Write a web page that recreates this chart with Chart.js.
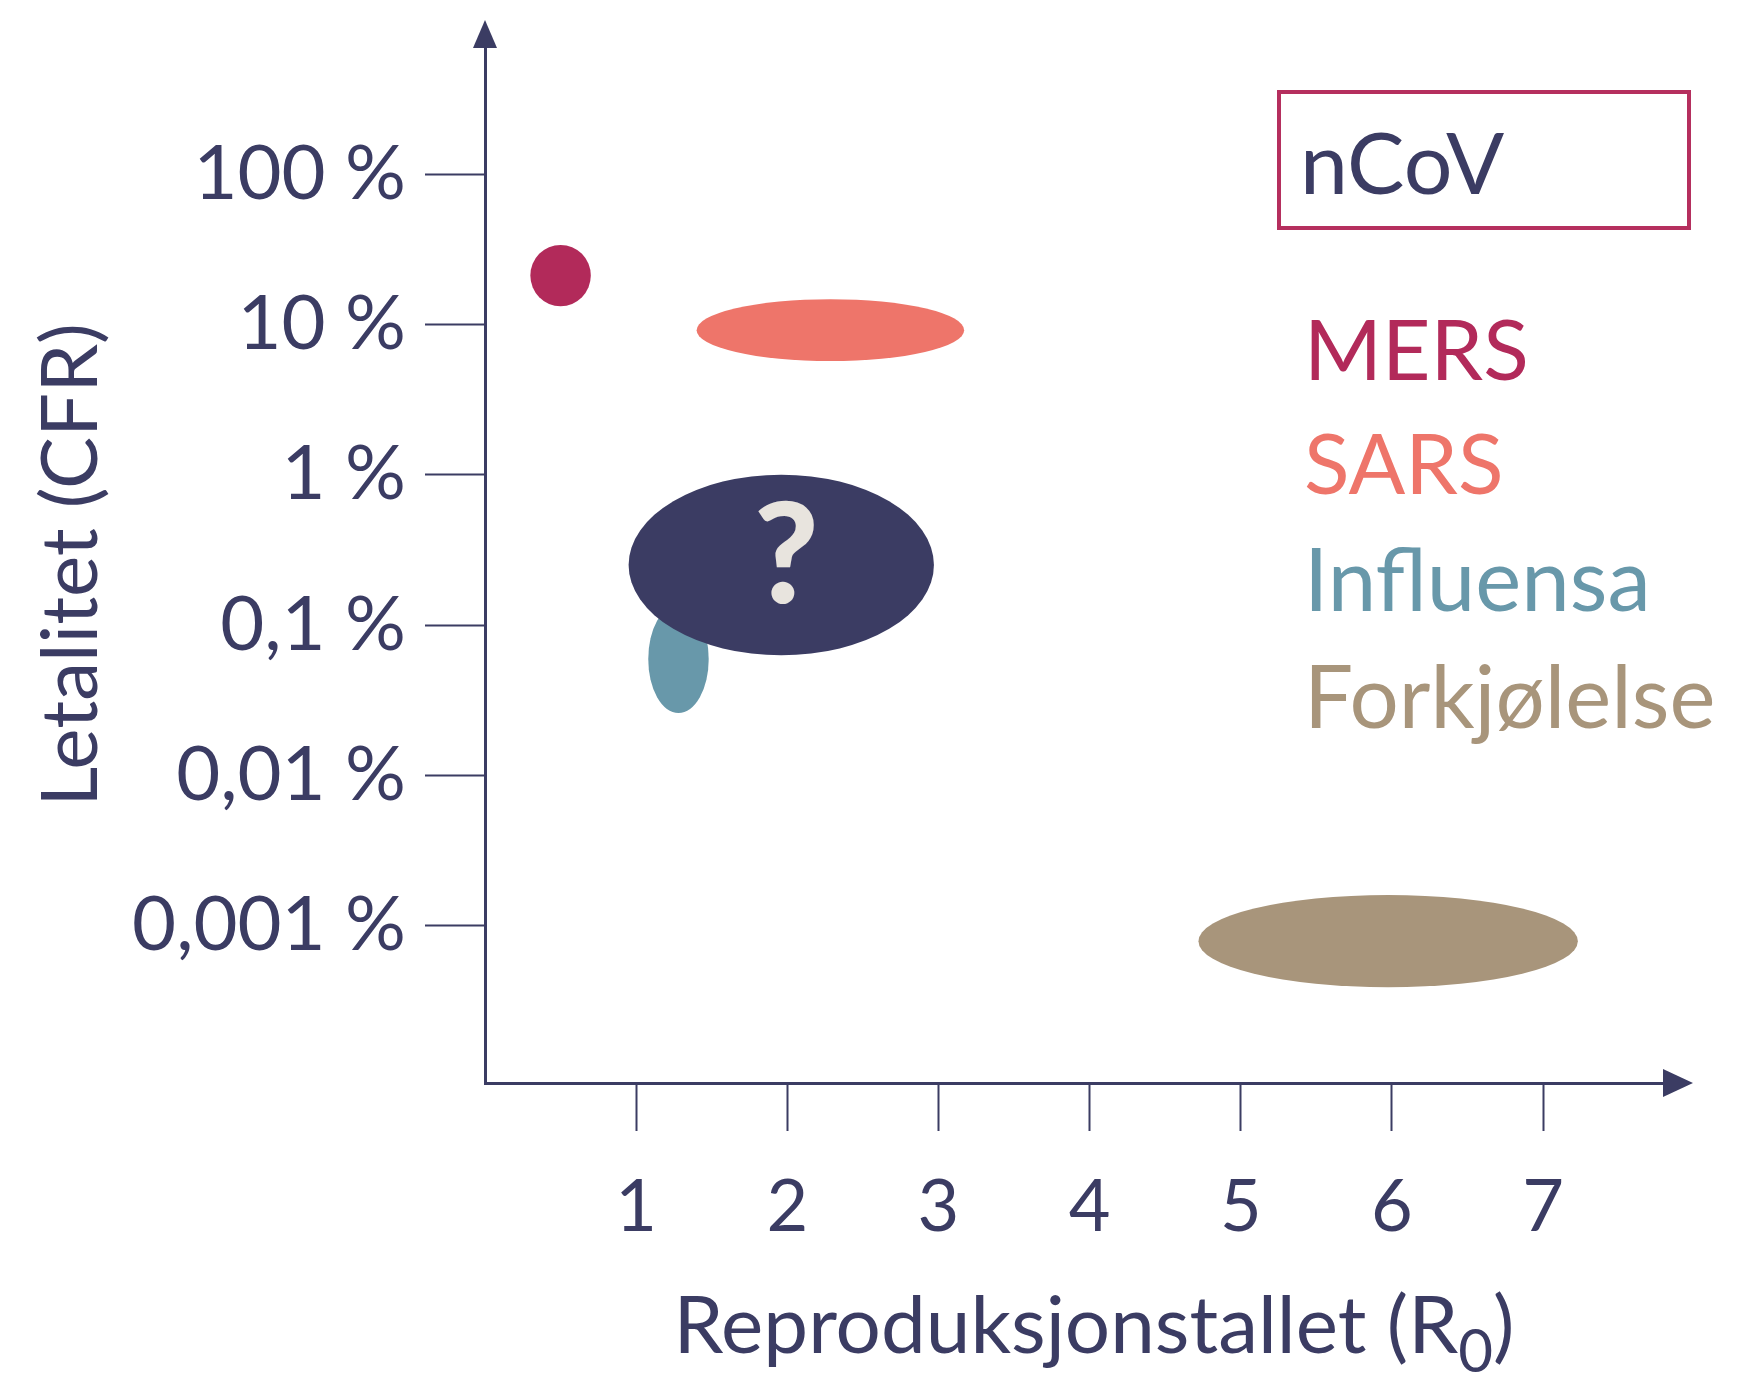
<!DOCTYPE html>
<html><head><meta charset="utf-8">
<script src="https://cdn.jsdelivr.net/npm/chart.js@4.4.1/dist/chart.umd.min.js"></script>
<style>html,body{margin:0;padding:0;background:#fff;} #wrap{width:1742px;height:1383px;}</style>
</head><body><div id="wrap"><canvas id="c" width="1742" height="1383"></canvas></div>
<script>
// ---- data ----
const diseases = ['MERS', 'SARS', 'Influensa', 'Forkjølelse', 'nCoV'];
const r0Low  = [0.30, 1.40, 1.08, 4.72, 0.95];
const r0High = [0.70, 3.17, 1.48, 7.23, 2.97];
const cfrLow  = [13.2, 5.7, 0.026, 0.00039, 0.063];   // %
const cfrHigh = [33.8, 14.7, 0.136, 0.0016, 1.0];     // %
const shapeColors = ['#b22a5a', '#ee756a', '#6898aa', '#a8957b', '#3b3c63'];
const xTickValues = [1, 2, 3, 4, 5, 6, 7];
const yTickValues = [100, 10, 1, 0.1, 0.01, 0.001];
const yTickLabels = ['100 %', '10 %', '1 %', '0,1 %', '0,01 %', '0,001 %'];
const legendNames = ['nCoV', 'MERS', 'SARS', 'Influensa', 'Forkjølelse'];
const legendColors = ['#3b3c63', '#b22a5a', '#ee756a', '#6898aa', '#a8957b'];
const xTitleMain = 'Reproduksjonstallet (R';
const xTitleSub = '0';
const xTitleEnd = ')';
const yTitleText = 'Letalitet (CFR)';
const unknownMark = '?';

const NAVY = '#3b3c63';
const FONT = 'Lato, "Open Sans", sans-serif';

const shapesPlugin = {
  id: 'shapes',
  beforeDatasetsDraw(chart) {
    const {ctx, scales: {x, y}} = chart;
    ctx.save();
    diseases.forEach((d, i) => {
      const x0 = x.getPixelForValue(r0Low[i]), x1 = x.getPixelForValue(r0High[i]);
      const y0 = y.getPixelForValue(cfrHigh[i]), y1 = y.getPixelForValue(cfrLow[i]);
      ctx.beginPath();
      ctx.ellipse((x0 + x1) / 2, (y0 + y1) / 2, Math.abs(x1 - x0) / 2, Math.abs(y1 - y0) / 2, 0, 0, Math.PI * 2);
      ctx.fillStyle = shapeColors[i];
      ctx.fill();
      if (d === 'nCoV') {
        ctx.fillStyle = '#e8e4de';
        ctx.font = '900 140px ' + FONT;
        ctx.textAlign = 'center';
        ctx.textBaseline = 'alphabetic';
        ctx.fillText(unknownMark, (x0 + x1) / 2 + 5, (y0 + y1) / 2 + 38);
      }
    });
    ctx.restore();
  },
  afterDraw(chart) {
    const {ctx, chartArea: ca} = chart;
    ctx.save();
    ctx.fillStyle = NAVY;
    // y arrow
    ctx.beginPath();
    ctx.moveTo(ca.left - 12, ca.top + 1);
    ctx.lineTo(ca.left + 12, ca.top + 1);
    ctx.lineTo(ca.left, ca.top - 27);
    ctx.closePath(); ctx.fill();
    // x arrow
    ctx.beginPath();
    ctx.moveTo(ca.right - 1, ca.bottom - 14);
    ctx.lineTo(ca.right - 1, ca.bottom + 14);
    ctx.lineTo(ca.right + 29, ca.bottom);
    ctx.closePath(); ctx.fill();

    // x title with subscript
    ctx.textBaseline = 'alphabetic';
    ctx.textAlign = 'left';
    const fMain = '80px ' + FONT, fSub = '60px ' + FONT;
    ctx.font = fMain;
    const w1 = ctx.measureText(xTitleMain).width;
    const w3 = ctx.measureText(xTitleEnd).width;
    ctx.font = fSub;
    const w2 = ctx.measureText(xTitleSub).width;
    const total = w1 + w2 + w3;
    let sx = 1094 - total / 2;
    const base = 1353;
    ctx.font = fMain; ctx.fillText(xTitleMain, sx, base); sx += w1;
    ctx.font = fSub; ctx.fillText(xTitleSub, sx, base + 19); sx += w2;
    ctx.font = fMain; ctx.fillText(xTitleEnd, sx, base);

    // legend
    ctx.strokeStyle = '#b52f5e';
    ctx.lineWidth = 4;
    ctx.strokeRect(1279, 92, 410, 136);
    const baselines = [194, 380, 494, 611, 728];
    legendNames.forEach((n, i) => {
      ctx.fillStyle = legendColors[i];
      ctx.font = (i === 0 ? '86px ' : (i >= 3 ? '87px ' : '84px ')) + FONT;
      ctx.fillText(n, i === 0 ? 1300 : 1304, baselines[i]);
    });
    ctx.restore();
  }
};

new Chart(document.getElementById('c'), {
  type: 'scatter',
  data: {
    datasets: diseases.map((d, i) => ({
      label: d,
      data: [{x: (r0Low[i] + r0High[i]) / 2, y: Math.sqrt(cfrLow[i] * cfrHigh[i])}],
      pointRadius: 0,
      pointHoverRadius: 0,
      backgroundColor: shapeColors[i]
    }))
  },
  options: {
    responsive: false,
    devicePixelRatio: 1,
    animation: false,
    events: [],
    layout: {padding: {top: 47, right: 78, left: 0, bottom: 0}},
    plugins: {legend: {display: false}, tooltip: {enabled: false}},
    scales: {
      x: {
        type: 'linear', min: 0, max: 7.8,
        afterFit(s) { s.height = 300; s.paddingLeft = 0; s.paddingRight = 0; },
        afterBuildTicks(s) { s.ticks = xTickValues.map(v => ({value: v})); },
        border: {display: true, color: NAVY, width: 3},
        grid: {drawOnChartArea: false, drawTicks: true, tickLength: 48, tickColor: NAVY, tickWidth: 2},
        ticks: {autoSkip: false, maxRotation: 0, color: NAVY, padding: 34, font: {family: FONT, size: 72},
          callback: v => String(v)}
      },
      y: {
        type: 'logarithmic', min: 0.00009, max: 700,
        afterFit(s) { s.width = 485; s.paddingTop = 0; s.paddingBottom = 0; },
        afterBuildTicks(s) { s.ticks = yTickValues.map(v => ({value: v})); },
        border: {display: true, color: NAVY, width: 3},
        grid: {drawOnChartArea: false, drawTicks: true, tickLength: 60, tickColor: NAVY, tickWidth: 2},
        ticks: {autoSkip: false, color: NAVY, padding: 19, font: {family: FONT, size: 76},
          callback: (v, i) => yTickLabels[i]},
        title: {display: true, text: yTitleText, color: NAVY, font: {family: FONT, size: 78}, padding: {top: 25, bottom: 0}}
      }
    }
  },
  plugins: [shapesPlugin]
});
</script></body></html>
